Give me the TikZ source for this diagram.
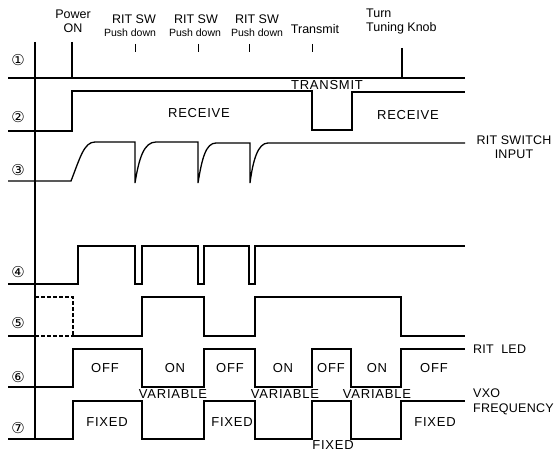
\documentclass[tikz,border=0pt]{standalone}
\usepackage{fontspec}
\setmainfont{Liberation Sans}
\newfontfamily\capfont[LetterSpace=6]{Liberation Sans}
\newfontfamily\tagfont[LetterSpace=2]{Liberation Sans}
\newfontfamily\circfont{DejaVu Sans}
\usetikzlibrary{positioning}

\begin{document}
\begin{tikzpicture}[x=1pt, y=-1pt,
    every node/.style={inner sep=0pt},
    sig/.style={line width=1.3pt, line join=miter},
    dsig/.style={sig, line width=1.1pt, dash pattern=on 4pt off 2pt},
    evt/.style={font=\fontsize{12.5}{14}\selectfont, align=center},
    sub/.style={font=\fontsize{10.5}{11}\selectfont},
    lvl/.style={font=\capfont\fontsize{13}{14}\selectfont},
    chan/.style={font=\tagfont\fontsize{12.5}{14.5}\selectfont, align=center},
    num/.style={font=\circfont\fontsize{15}{16}\selectfont}]

  \useasboundingbox (0,0) rectangle (555,452);

  % event labels
  \node[evt] (lPower) at (73,21) {Power\\ON};
  \node[evt] (lRit1) at (134,19) {RIT SW};
  \node[evt] (lRit2) at (196,19) {RIT SW};
  \node[evt] (lRit3) at (257,19) {RIT SW};
  \node[sub] (lPush1) at (130,33) {Push down};
  \node[sub] (lPush2) at (195,33) {Push down};
  \node[sub] (lPush3) at (257,33) {Push down};
  \node[evt] (lTx) at (315,29) {Transmit};
  \node[evt, anchor=west, align=left] (lKnob) at (366,21) {Turn\\Tuning Knob};

  % small tick marks
  \foreach \tx in {135,198,249,312}
    \draw[line width=1pt] (\tx,44) -- (\tx,52);

  % axis
  \draw[sig] (35,42) -- (35,439);

  % channel numbers
  \node[num] (n1) at (18,60) {①};
  \node[num] (n2) at (18,117) {②};
  \node[num] (n3) at (18,170) {③};
  \node[num] (n4) at (18,272) {④};
  \node[num] (n5) at (18,323) {⑤};
  \node[num] (n6) at (18,377) {⑥};
  \node[num] (n7) at (18,428) {⑦};

  % 1
  \draw[sig] (8,78) -- (465,78);
  \draw[sig] (72,42) -- (72,78);
  \draw[sig] (402,48) -- (402,78);

  % 2
  \draw[sig] (8,131) -- (72,131) -- (72,91) -- (312,91) -- (312,130)
    -- (352,130) -- (352,92) -- (465,92);
  \node[lvl] (sRx1) at (199,113) {RECEIVE};
  \node[lvl] (sTx) at (327,85) {TRANSMIT};
  \node[lvl] (sRx2) at (408,115) {RECEIVE};

  % 3
  \draw[sig] (8,181) -- (71,181) .. controls (80,158) and (84,142) .. (95,142)
    -- (135,142) -- (135,183) .. controls (139,158) and (144,142) .. (156,142)
    -- (198,142) -- (198,183) .. controls (202,158) and (206,143) .. (216,143)
    -- (250,143) -- (250,183) .. controls (253,160) and (258,143) .. (268,143)
    -- (465,143);
  \node[chan] (lSw) at (514,147) {RIT SWITCH\\INPUT};

  % 4
  \draw[sig] (8,284) -- (78,284) -- (78,246) -- (135,246) -- (135,284)
    -- (142,284) -- (142,246) -- (198,246) -- (198,284) -- (204,284)
    -- (204,246) -- (249,246) -- (249,284) -- (255,284) -- (255,246)
    -- (465,246);

  % 5
  \draw[sig] (8,336) -- (35,336);
  \draw[dsig] (35,336) -- (73,336);
  \draw[dsig] (35,297) -- (73,297) -- (73,336);
  \draw[sig] (73,336) -- (142,336) -- (142,297) -- (204,297) -- (204,336)
    -- (255,336) -- (255,297) -- (401,297) -- (401,336) -- (465,336);

  % 6
  \draw[sig] (8,387) -- (73,387) -- (73,349) -- (142,349) -- (142,387)
    -- (204,387) -- (204,349) -- (255,349) -- (255,387) -- (312,387)
    -- (312,349) -- (351,349) -- (351,387) -- (401,387) -- (401,349)
    -- (465,349);
  \node[lvl] (sOff1) at (105,368) {OFF};
  \node[lvl] (sOn1) at (175,368) {ON};
  \node[lvl] (sOff2) at (230,368) {OFF};
  \node[lvl] (sOn2) at (283,368) {ON};
  \node[lvl] (sOff3) at (331,368) {OFF};
  \node[lvl] (sOn3) at (377,368) {ON};
  \node[lvl] (sOff4) at (434,368) {OFF};
  \node[chan, anchor=west] (lLed) at (473,349) {RIT\ \ LED};

  % 7
  \draw[sig] (8,439) -- (73,439) -- (73,401) -- (142,401) -- (142,439)
    -- (204,439) -- (204,401) -- (255,401) -- (255,439) -- (312,439)
    -- (312,401) -- (351,401) -- (351,439) -- (401,439) -- (401,401)
    -- (465,401);
  \node[lvl] (sVar1) at (173,394) {VARIABLE};
  \node[lvl] (sVar2) at (285,394) {VARIABLE};
  \node[lvl] (sVar3) at (377,394) {VARIABLE};
  \node[lvl] (sFix1) at (107,422) {FIXED};
  \node[lvl] (sFix2) at (232,422) {FIXED};
  \node[lvl] (sFix3) at (333,445.5) {FIXED};
  \node[lvl] (sFix4) at (435,422) {FIXED};
  \node[chan, anchor=west, align=left] (lVxo) at (473,402) {VXO\\FREQUENCY};
\end{tikzpicture}
\end{document}
